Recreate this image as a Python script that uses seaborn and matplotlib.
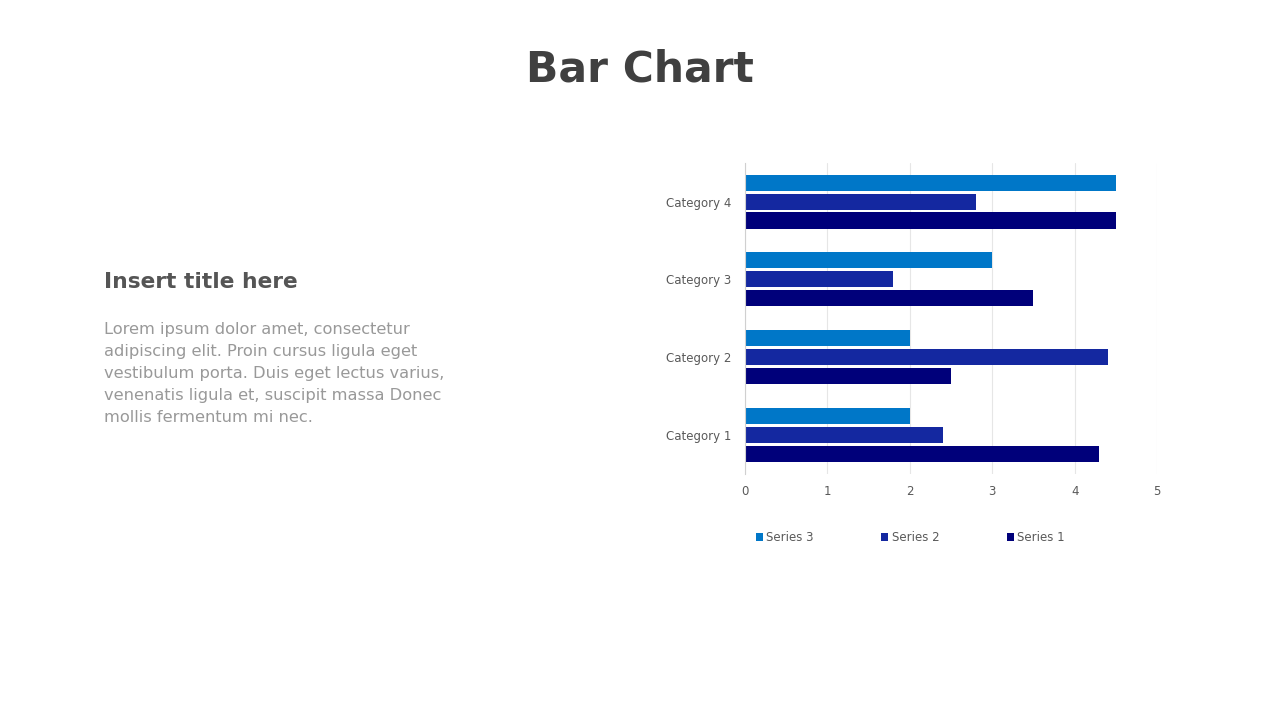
import pandas as pd
import seaborn as sns
import matplotlib.pyplot as plt
from matplotlib.patches import Patch

# chart values
categories = ['Category 1', 'Category 2', 'Category 3', 'Category 4']
series_1 = [4.3, 2.5, 3.5, 4.5]
series_2 = [2.4, 4.4, 1.8, 2.8]
series_3 = [2.0, 2.0, 3.0, 4.5]
x_ticks = [0, 1, 2, 3, 4, 5]

colors = {'Series 3': '#0077c8', 'Series 2': '#1428a0', 'Series 1': '#00007a'}

# long table for seaborn
rows = []
for name, vals in [('Series 1', series_1), ('Series 2', series_2), ('Series 3', series_3)]:
    for cat, v in zip(categories, vals):
        rows.append({'category': cat, 'series': name, 'value': v})
df = pd.DataFrame(rows)

sns.set_style('white')
plt.rcParams['font.family'] = ['DejaVu Sans']

fig = plt.figure(figsize=(12.8, 7.2), dpi=100)
ax = fig.add_axes([0.582, 0.342, 0.322, 0.432])

hue_order = ['Series 3', 'Series 2', 'Series 1']
sns.barplot(data=df, x='value', y='category', hue='series',
            order=categories[::-1], hue_order=hue_order,
            palette=colors, width=0.73, gap=0.15, orient='h',
            saturation=1, linewidth=0, ax=ax, legend=False)

ax.set_xlim(0, 5)
ax.set_ylim(3.5, -0.5)
ax.set_xticks(x_ticks)
ax.set_xlabel('')
ax.set_ylabel('')
ax.grid(axis='x', color='#e6e6e6', linewidth=0.8)
ax.set_axisbelow(True)
for side in ['top', 'right', 'bottom']:
    ax.spines[side].set_visible(False)
ax.spines['left'].set_color('#d0d0d0')
ax.tick_params(axis='both', length=0, labelsize=8.5, labelcolor='#595959')
ax.tick_params(axis='x', pad=8)
ax.tick_params(axis='y', pad=10)

handles = [Patch(facecolor=colors[s], edgecolor='none', label=s) for s in hue_order]
fig.legend(handles=handles, loc='center left', bbox_to_anchor=(0.582, 0.253),
           ncol=3, frameon=False, fontsize=8.5, labelcolor='#595959',
           handlelength=0.6, handleheight=0.6, handletextpad=0.3,
           columnspacing=5.7)

fig.text(0.5, 0.903, 'Bar Chart', ha='center', va='center',
         fontsize=30.5, fontweight='bold', color='#404040')
fig.text(0.081, 0.608, 'Insert title here', ha='left', va='center',
         fontsize=15.7, fontweight='bold', color='#555555')
body = ('Lorem ipsum dolor amet, consectetur\n'
        'adipiscing elit. Proin cursus ligula eget\n'
        'vestibulum porta. Duis eget lectus varius,\n'
        'venenatis ligula et, suscipit massa Donec\n'
        'mollis fermentum mi nec.')
fig.text(0.081, 0.553, body, ha='left', va='top', fontsize=11.7,
         color='#999999', linespacing=1.58)

fig.savefig('out.png', dpi=100)
